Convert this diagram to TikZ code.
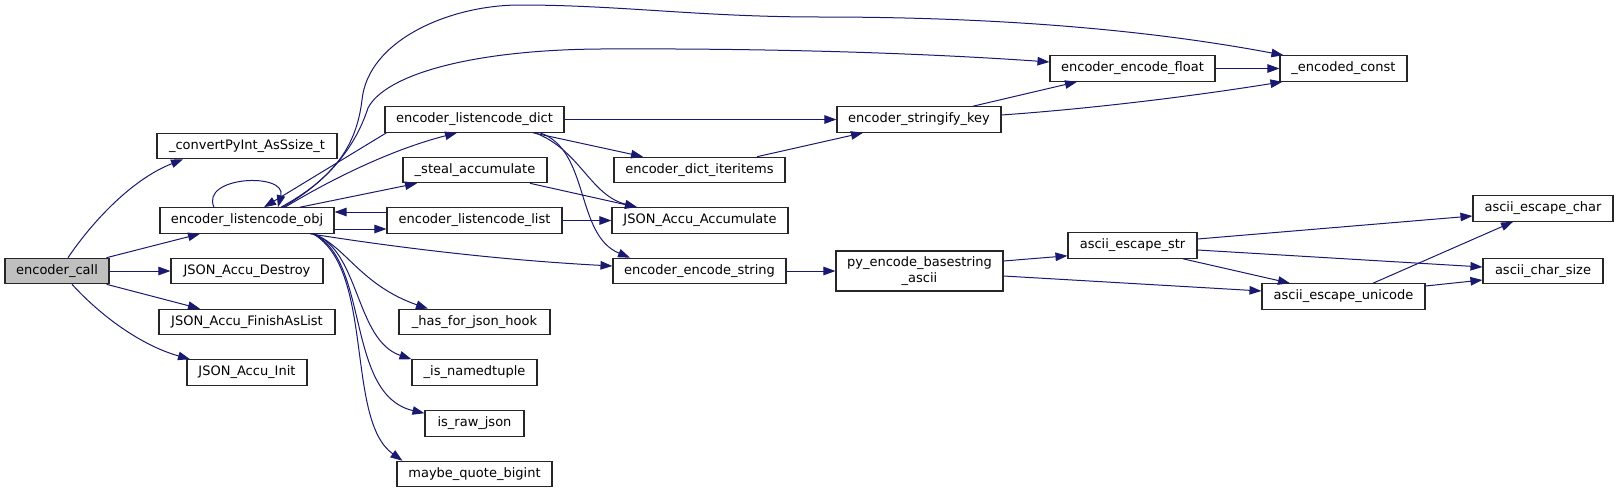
\documentclass[tikz,border=0pt]{standalone}
\usepackage{fontspec}
\setmainfont{DejaVu Sans}
\usetikzlibrary{arrows.meta}
\definecolor{edgeblue}{HTML}{191970}
\definecolor{rootgray}{HTML}{BFBFBF}
\begin{document}
\begin{tikzpicture}[x=1pt,y=-1pt,
  fn/.style={draw=black!85,line width=1.1pt,fill=white,rectangle,inner sep=0pt,minimum height=25.5pt,font=\fontsize{13}{15.5}\selectfont,text=black},
  edge/.style={draw=edgeblue,line width=1pt,-{Triangle[length=12pt,width=8.5pt]}}]
\useasboundingbox (0,0) rectangle (1619,493);
% nodes
\node[fn,fill=rootgray,minimum width=104pt] (call) at (57,271) {encoder\_call};
\node[fn,minimum width=180pt] (conv) at (247,146) {\_convertPyInt\_AsSsize\_t};
\node[fn,minimum width=174pt] (obj) at (247,220.5) {encoder\_listencode\_obj};
\node[fn,minimum width=152pt] (destroy) at (247,271) {JSON\_Accu\_Destroy};
\node[fn,minimum width=176pt] (finish) at (247,322) {JSON\_Accu\_FinishAsList};
\node[fn,minimum width=120pt] (init) at (247,372.5) {JSON\_Accu\_Init};
\node[fn,minimum width=179pt] (dict) at (474.5,119.5) {encoder\_listencode\_dict};
\node[fn,minimum width=144pt] (steal) at (475,170) {\_steal\_accumulate};
\node[fn,minimum width=175pt] (list) at (474.5,220.5) {encoder\_listencode\_list};
\node[fn,minimum width=151pt] (hasjson) at (474.5,322) {\_has\_for\_json\_hook};
\node[fn,minimum width=125pt] (named) at (474.5,372.5) {\_is\_namedtuple};
\node[fn,minimum width=99pt] (raw) at (474.5,423.5) {is\_raw\_json};
\node[fn,minimum width=155pt] (bigint) at (474.5,474) {maybe\_quote\_bigint};
\node[fn,minimum width=171pt] (iter) at (699.5,170) {encoder\_dict\_iteritems};
\node[fn,minimum width=176pt] (accum) at (700,220.5) {JSON\_Accu\_Accumulate};
\node[fn,minimum width=173pt] (encstr) at (699.5,271) {encoder\_encode\_string};
\node[fn,minimum width=165pt] (float) at (1132.5,68.5) {encoder\_encode\_float};
\node[fn,minimum width=164pt] (strkey) at (919,119.5) {encoder\_stringify\_key};
\node[fn,minimum width=167pt,minimum height=40pt,align=center] (pyenc) at (919.5,271) {py\_encode\_basestring\\\_ascii};
\node[fn,minimum width=127pt] (const) at (1343.5,68.5) {\_encoded\_const};
\node[fn,minimum width=129pt] (escstr) at (1132.5,245.5) {ascii\_escape\_str};
\node[fn,minimum width=163pt] (escuni) at (1343.5,296.5) {ascii\_escape\_unicode};
\node[fn,minimum width=140pt] (escchar) at (1543,208.5) {ascii\_escape\_char};
\node[fn,minimum width=120pt] (csize) at (1543,271) {ascii\_char\_size};
% edges from encoder_call
\draw[edge] ([xshift=11pt]call.north) .. controls (90,225) and (130,180) .. ([xshift=-64pt]conv.south);
\draw[edge] ([xshift=-3pt]call.north east) -- ([xshift=-47pt]obj.south);
\draw[edge] (call.east) -- (destroy.west);
\draw[edge] ([xshift=-3pt]call.south east) -- ([xshift=-47pt]finish.north);
\draw[edge] ([xshift=15pt]call.south) .. controls (100,315) and (140,345) .. ([xshift=-57pt]init.north);
% edges from encoder_listencode_obj
\draw[edge] ([xshift=-33pt]obj.north) .. controls (200,176) and (287,172) .. ([xshift=31pt]obj.north);
\draw[edge] ([xshift=2pt]dict.south west) -- ([xshift=17pt]obj.north);
\draw[edge] ([xshift=38pt]obj.north) .. controls (330,180) and (390,150) .. ([xshift=-17.5pt]dict.south);
\draw[edge] ([xshift=34pt]obj.north) .. controls (330,180) and (356,150) .. (362,100)
  .. controls (368,40) and (450,5) .. (520,5)
  .. controls (620,5) and (700,17) .. (820,17)
  .. controls (1000,17) and (1150,30) .. ([xshift=4pt]const.north west);
\draw[edge] ([xshift=36pt]obj.north) .. controls (330,180) and (356,145) .. (368,108)
  .. controls (385,75) and (470,50) .. (600,49)
  .. controls (800,48) and (950,55) .. ([yshift=6.5pt]float.west);
\draw[edge] ([xshift=53pt]obj.north) -- ([xshift=-58pt]steal.south);
\draw[edge] ([yshift=8.5pt]list.west) -- ([yshift=8.5pt]obj.east);
\draw[edge] ([yshift=-8.5pt]obj.east) -- ([yshift=-8.5pt]list.west);
\draw[edge] ([xshift=63pt]obj.south) .. controls (400,248) and (500,260) .. ([yshift=5pt]encstr.west);
\draw[edge] ([xshift=66pt]obj.south) .. controls (345,245) and (360,285) .. ([xshift=-46.5pt]hasjson.north);
\draw[edge] ([xshift=66pt]obj.south) .. controls (360,250) and (355,340) .. (named.north west);
\draw[edge] ([xshift=66pt]obj.south) .. controls (370,260) and (345,395) .. ([yshift=-3pt]raw.north west);
\draw[edge] ([xshift=66pt]obj.south) .. controls (375,270) and (345,420) .. ([xshift=6pt]bigint.north west);
% edges from encoder_listencode_dict
\draw[edge] (dict.east) -- (strkey.west);
\draw[edge] ([xshift=58.5pt]dict.south) -- ([xshift=-56.5pt]iter.north);
\draw[edge] ([xshift=60.5pt]dict.south) .. controls (580,150) and (590,195) .. ([xshift=-63pt]accum.north);
\draw[edge] ([xshift=65.5pt]dict.south) .. controls (590,150) and (575,235) .. ([xshift=-69.5pt]encstr.north);
% other edges
\draw[edge] ([xshift=55pt]steal.south) -- ([xshift=-63pt]accum.north);
\draw[edge] (list.east) -- (accum.west);
\draw[edge] ([xshift=57.5pt]iter.north) -- ([xshift=-56pt]strkey.south);
\draw[edge] ([xshift=54pt]strkey.north) -- ([xshift=-55.5pt]float.south);
\draw[edge] ([yshift=4.5pt]strkey.east) .. controls (1100,108) and (1200,95) .. ([xshift=3pt]const.south west);
\draw[edge] (float.east) -- (const.west);
\draw[edge] (encstr.east) -- (pyenc.west);
\draw[edge] ([yshift=10pt]pyenc.east) -- ([yshift=3pt]escstr.south west);
\draw[edge] ([yshift=-5pt]pyenc.east) -- ([yshift=5.5pt]escuni.west);
\draw[edge] ([yshift=6.5pt]escstr.east) -- ([yshift=-7.5pt]escchar.west);
\draw[edge] ([yshift=-4.5pt]escstr.east) -- ([yshift=4pt]csize.west);
\draw[edge] ([xshift=50.5pt]escstr.south) -- ([xshift=-53.5pt]escuni.north);
\draw[edge] ([xshift=29.5pt]escuni.north) -- ([xshift=-30pt]escchar.south);
\draw[edge] ([yshift=10.5pt]escuni.east) -- ([yshift=-9pt]csize.west);
\end{tikzpicture}
\end{document}
